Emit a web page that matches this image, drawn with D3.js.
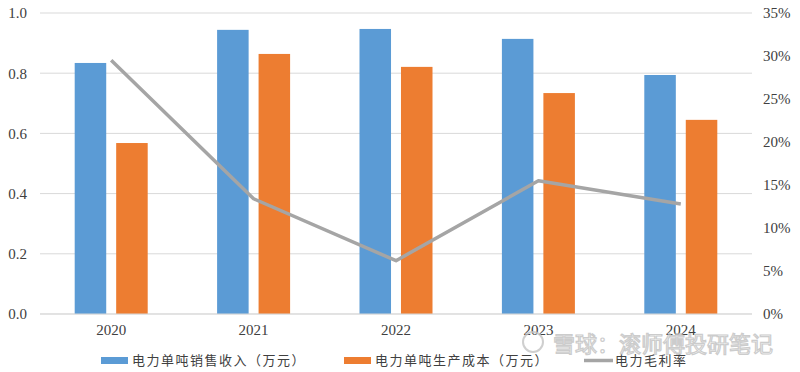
<!DOCTYPE html>
<html>
<head>
<meta charset="utf-8">
<script src="https://cdn.jsdelivr.net/npm/d3@7"></script>
<style>
  body { margin: 0; background: #fff; }
  svg { display: block; }
</style>
</head>
<body>
<svg width="800" height="372"></svg>
<script>
const years = ["2020", "2021", "2022", "2023", "2024"];
const revenue = [0.834, 0.944, 0.947, 0.914, 0.794];
const cost = [0.568, 0.864, 0.821, 0.734, 0.645];
const margin = [0.295, 0.134, 0.062, 0.155, 0.128];
const leftTicks = [0, 0.2, 0.4, 0.6, 0.8, 1.0];
const rightTicks = [0, 0.05, 0.1, 0.15, 0.2, 0.25, 0.3, 0.35];
const seriesNames = ["电力单吨销售收入（万元）", "电力单吨生产成本（万元）", "电力毛利率"];

let svg = d3.select("svg");
const plotLeft = 40, plotRight = 752, plotTop = 13, plotBottom = 314;
const serif = "'Liberation Serif', 'Times New Roman', serif";
const cjk = "'Noto Sans CJK SC', sans-serif";

let x = d3.scaleBand().domain(years).range([plotLeft, plotRight]);
let sub = d3.scaleBand().domain(["rev", "cost"]).range([-36.5, 36.5]).paddingInner(0.24);
let y = d3.scaleLinear().domain([0, 1]).range([plotBottom, plotTop]);
let y2 = d3.scaleLinear().domain([0, 0.35]).range([plotBottom, plotTop]);

// grid
svg.append("g")
  .selectAll("line")
  .data(leftTicks)
  .enter().append("line")
  .attr("x1", plotLeft).attr("x2", plotRight)
  .attr("y1", d => y(d)).attr("y2", d => y(d))
  .attr("stroke", "#d9d9d9").attr("stroke-width", 1);

// left axis
let yAxis = svg.append("g")
  .attr("transform", "translate(" + plotLeft + ",0)")
  .call(d3.axisLeft(y).tickValues(leftTicks).tickFormat(d3.format(".1f")).tickSize(0).tickPadding(13));
yAxis.select(".domain").remove();
yAxis.selectAll("text").attr("font-family", serif).attr("font-size", 15).attr("fill", "#404040");

// right axis
let y2Axis = svg.append("g")
  .attr("transform", "translate(" + plotRight + ",0)")
  .call(d3.axisRight(y2).tickValues(rightTicks).tickFormat(d3.format(".0%")).tickSize(0).tickPadding(11));
y2Axis.select(".domain").remove();
y2Axis.selectAll("text").attr("font-family", serif).attr("font-size", 15).attr("fill", "#404040");

// x axis labels
let xAxis = svg.append("g")
  .attr("transform", "translate(0," + plotBottom + ")")
  .call(d3.axisBottom(x).tickSize(0).tickPadding(10));
xAxis.select(".domain").remove();
xAxis.selectAll("text").attr("font-family", serif).attr("font-size", 15).attr("fill", "#404040");

// bars
let groups = svg.append("g")
  .selectAll("g")
  .data(years)
  .enter().append("g")
  .attr("transform", d => "translate(" + (x(d) + x.bandwidth() / 2) + ",0)");

groups.append("rect")
  .attr("x", sub("rev"))
  .attr("width", sub.bandwidth())
  .attr("y", (d, i) => y(revenue[i]))
  .attr("height", (d, i) => plotBottom - y(revenue[i]))
  .attr("fill", "#5b9bd5");

groups.append("rect")
  .attr("x", sub("cost"))
  .attr("width", sub.bandwidth())
  .attr("y", (d, i) => y(cost[i]))
  .attr("height", (d, i) => plotBottom - y(cost[i]))
  .attr("fill", "#ed7d31");

// baseline
svg.append("line")
  .attr("x1", plotLeft).attr("x2", plotRight)
  .attr("y1", plotBottom).attr("y2", plotBottom)
  .attr("stroke", "#d9d9d9");

// margin line
let line = d3.line()
  .x((d, i) => x(years[i]) + x.bandwidth() / 2)
  .y(d => y2(d));
svg.append("path")
  .datum(margin)
  .attr("d", line)
  .attr("fill", "none")
  .attr("stroke", "#a5a5a5")
  .attr("stroke-width", 3.5)
  .attr("stroke-linejoin", "round");

// legend
let legend = svg.append("g").attr("font-family", cjk).attr("font-size", 13).attr("fill", "#404040");
const legendX = [101, 344, 584];
const legendColors = ["#5b9bd5", "#ed7d31", "#a5a5a5"];
seriesNames.forEach(function(name, i) {
  if (i < 2) {
    legend.append("rect")
      .attr("x", legendX[i]).attr("y", 357)
      .attr("width", 27).attr("height", 7)
      .attr("fill", legendColors[i]);
  } else {
    legend.append("line")
      .attr("x1", legendX[i]).attr("x2", legendX[i] + 29)
      .attr("y1", 360.5).attr("y2", 360.5)
      .attr("stroke", legendColors[i]).attr("stroke-width", 3.5);
  }
  legend.append("text")
    .attr("x", legendX[i] + 31).attr("y", 365)
    .attr("letter-spacing", 1.5)
    .text(name);
});

// watermark
let wm = svg.append("g").attr("opacity", 0.8);
wm.append("circle").attr("cx", 533).attr("cy", 342).attr("r", 10)
  .attr("fill", "none").attr("stroke", "#c4c4c4").attr("stroke-width", 2);
wm.append("text")
  .attr("x", 553).attr("y", 352)
  .attr("font-family", cjk).attr("font-size", 22)
  .attr("fill", "rgba(255,255,255,0.5)").attr("stroke", "#c0c0c0").attr("stroke-width", 1.2)
  .text("雪球：滚师傅投研笔记");
</script>
</body>
</html>
